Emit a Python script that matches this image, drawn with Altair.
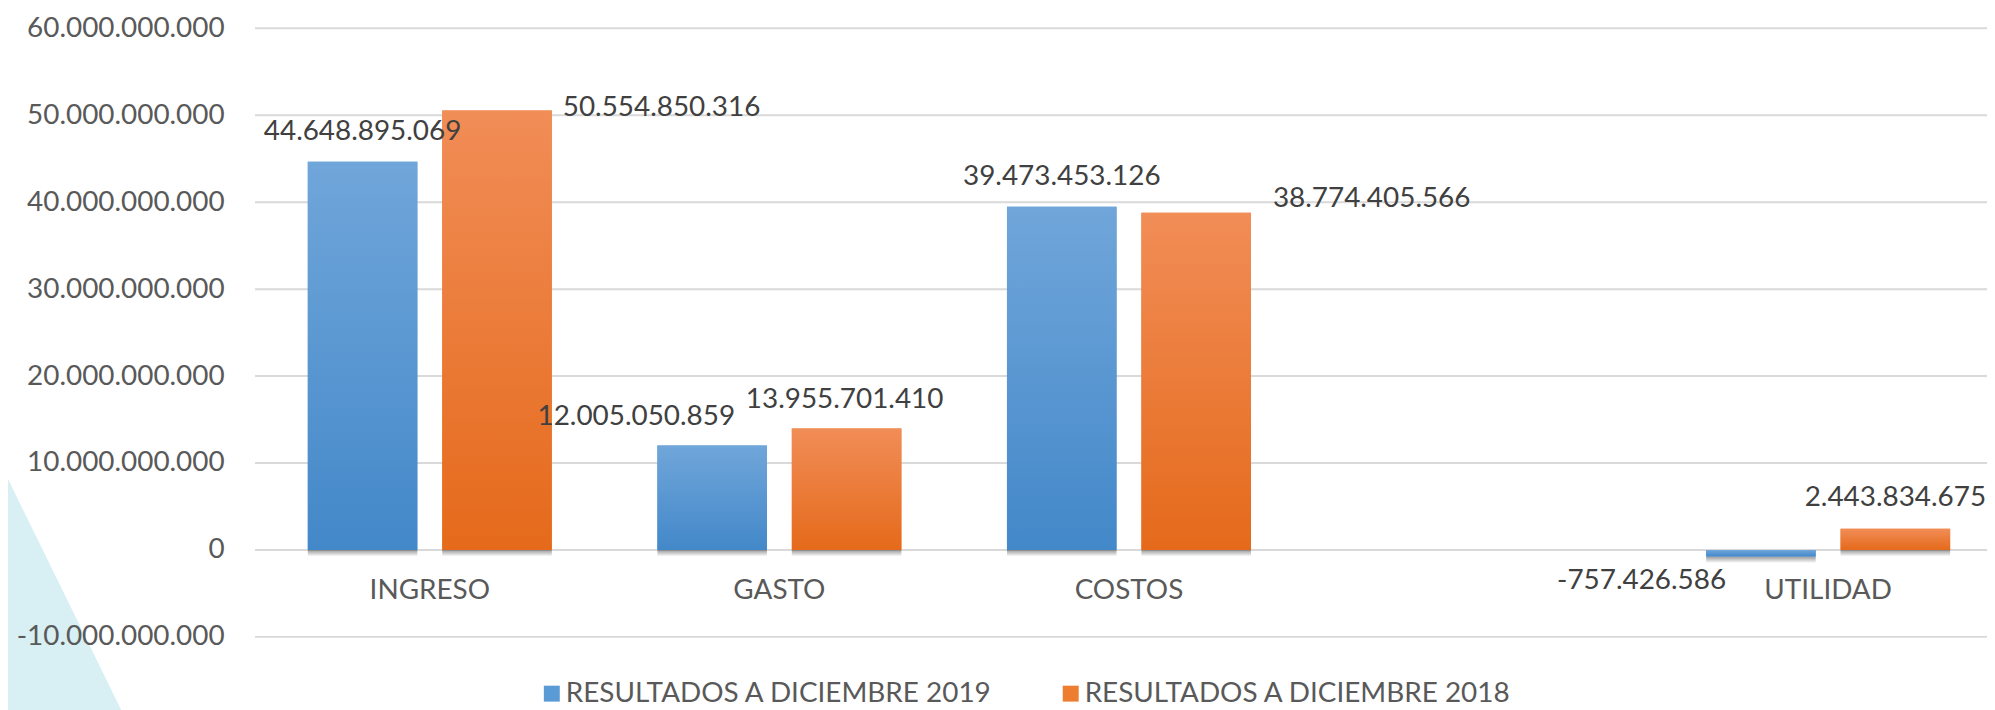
import altair as alt
import pandas as pd

# ---------------- data ----------------
categories = ["INGRESO", "GASTO", "COSTOS", "UTILIDAD"]
x_domain = ["INGRESO", "GASTO", "COSTOS", " ", "UTILIDAD"]  # empty slot before UTILIDAD
series_names = ["RESULTADOS A DICIEMBRE 2019", "RESULTADOS A DICIEMBRE 2018"]
values_2019 = [44648895069, 12005050859, 39473453126, -757426586]
values_2018 = [50554850316, 13955701410, 38774405566, 2443834675]
y_tick_values = [-10000000000, 0, 10000000000, 20000000000, 30000000000,
                 40000000000, 50000000000, 60000000000]

# ---------------- styling ----------------
FONT = "Lato"
FS = 28
SOLID = ["#5b9bd5", "#ed7d31"]
GRADS = [("#70a6da", "#4388c9"), ("#f18d57", "#e56a1b")]
# data-label placement relative to bar end: (align, dx, dy)
LABEL_PLACE = {
    ("INGRESO", 0): ("center", 0, -30),
    ("INGRESO", 1): ("left", 66, -2),
    ("GASTO", 0): ("right", 23, -29),
    ("GASTO", 1): ("center", -2, -29),
    ("COSTOS", 0): ("center", 0, -30),
    ("COSTOS", 1): ("left", 77, -14),
    ("UTILIDAD", 0): ("right", -35, 25),
    ("UTILIDAD", 1): ("center", 0, -31),
}


def fmt(v):
    return f"{v:,}".replace(",", ".")


rows = []
for si, vals in enumerate([values_2019, values_2018]):
    for c, v in zip(categories, vals):
        rows.append({"cat": c, "series": series_names[si], "sidx": si,
                     "value": v, "label": fmt(v)})
df = pd.DataFrame(rows)
cat_df = pd.DataFrame({"cat": categories})
tick_df = pd.DataFrame({"t": y_tick_values})

x_enc = alt.X("cat:N", axis=None,
              scale=alt.Scale(domain=x_domain, range=[0, 1755],
                              paddingInner=0.302, paddingOuter=0.151))
xo_enc = alt.XOffset("series:N",
                     scale=alt.Scale(domain=series_names, paddingInner=0.185,
                                     paddingOuter=0))
y_scale = alt.Scale(domain=[-10000000000, 60000000000], nice=False, zero=False)
label_expr = ("replace(replace(format(datum.value, ','), regexp(',', 'g'), '.'),"
              " '\u2212', '-')")
y_axis = alt.Axis(values=y_tick_values, grid=False, domain=False, ticks=False,
                  labelExpr=label_expr, labelFont=FONT, labelFontSize=FS,
                  labelColor="#595959", labelPadding=31, labelLimit=1000,
                  zindex=1, title=None)

base = alt.Chart(df)

# decorative background wedge (bottom-left)
wedge = alt.Chart(pd.DataFrame({"k": [0]})).mark_point(
    shape="M -0.3,-3.08 L 1.504,0.6 L -0.3,0.6 Z", size=40000, filled=True,
    fill="#d8eff3", opacity=1, strokeWidth=0
).encode(x=alt.value(-256), y=alt.value(683))

grid = alt.Chart(tick_df).mark_rule(color="#d9d9d9", strokeWidth=2).encode(
    y=alt.Y("t:Q", scale=y_scale, axis=y_axis)
)

shadow = base.mark_bar(
    fill=alt.Gradient(gradient="linear",
                      stops=[alt.GradientStop(color="rgba(70,70,70,0.55)", offset=0),
                             alt.GradientStop(color="rgba(70,70,70,0)", offset=1)],
                      x1=0, x2=0, y1=0, y2=1)
).transform_calculate(
    low="min(datum.value, 0)", low2="min(datum.value, 0) - 750000000"
).encode(x=x_enc, xOffset=xo_enc, y=alt.Y("low:Q", scale=y_scale), y2="low2:Q")

bars_base = base.mark_bar().encode(
    x=x_enc, xOffset=xo_enc,
    y=alt.Y("value:Q", scale=y_scale),
    color=alt.Color("series:N", scale=alt.Scale(domain=series_names, range=SOLID),
                    legend=alt.Legend(orient="none", legendX=284, legendY=654,
                                      direction="horizontal", title=None,
                                      symbolType="square", symbolSize=256,
                                      symbolStrokeWidth=0, labelFont=FONT,
                                      labelFontSize=FS, labelColor="#595959",
                                      labelOffset=0, columnPadding=64,
                                      labelLimit=1000)),
)

grad_layers = []
for si in range(2):
    top, bot = GRADS[si]
    grad_layers.append(
        base.transform_filter(f"datum.sidx == {si}").mark_bar(
            fill=alt.Gradient(gradient="linear",
                              stops=[alt.GradientStop(color=top, offset=0),
                                     alt.GradientStop(color=bot, offset=1)],
                              x1=0, x2=0, y1=0, y2=1)
        ).encode(x=x_enc, xOffset=xo_enc, y=alt.Y("value:Q", scale=y_scale))
    )

label_layers = []
for (c, si), (al, dx, dy) in LABEL_PLACE.items():
    label_layers.append(
        base.transform_filter(
            f"datum.cat == '{c}' && datum.sidx == {si}"
        ).mark_text(font=FONT, fontSize=FS, color="#404040", align=al,
                    baseline="middle", dx=dx, dy=dy).encode(
            x=x_enc, xOffset=xo_enc, y=alt.Y("value:Q", scale=y_scale),
            text="label:N")
    )

cat_labels = alt.Chart(cat_df).mark_text(
    font=FONT, fontSize=FS, color="#595959", baseline="middle", dy=41
).encode(x=x_enc, y=alt.datum(0, scale=y_scale), text="cat:N")

chart = alt.layer(
    wedge, grid, shadow, bars_base, *grad_layers, *label_layers, cat_labels
).properties(
    width=1739, height=611,
    padding={"left": 248, "top": 19, "right": 0, "bottom": 72},
    autosize=alt.AutoSizeParams(type="none"),
    background="white",
).configure_view(stroke=None)

chart.save("out.html", embed_options={"renderer": "svg", "actions": False})
